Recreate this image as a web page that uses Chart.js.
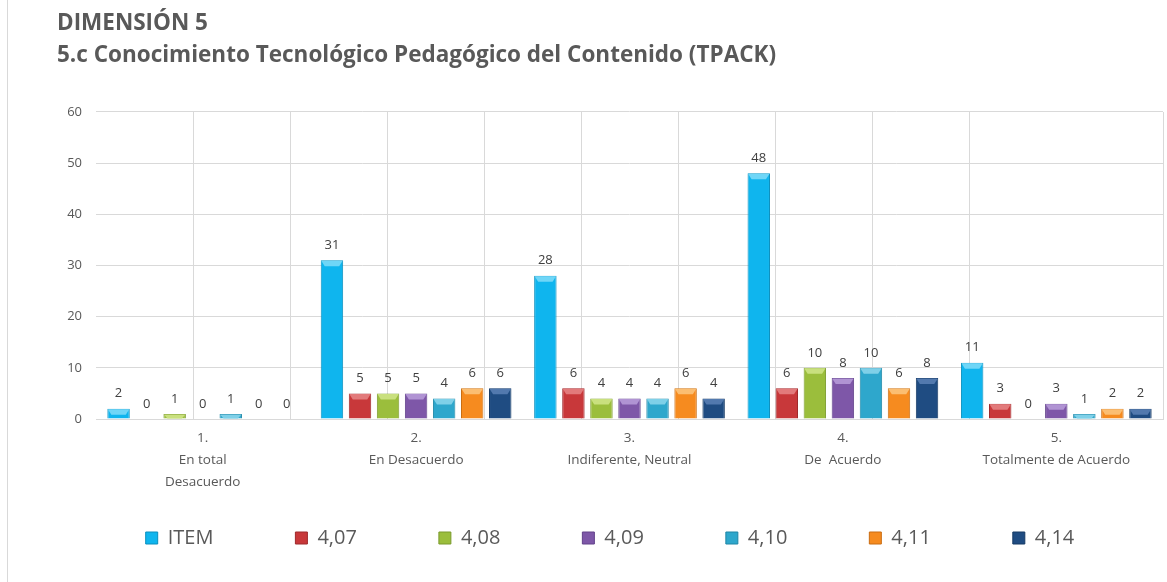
<!DOCTYPE html>
<html>
<head>
<meta charset="utf-8">
<script src="https://cdn.jsdelivr.net/npm/chart.js@4.4.1/dist/chart.umd.min.js"></script>
<style>
  html, body { margin: 0; padding: 0; background: #fff; }
  #wrap { position: relative; width: 1167px; height: 582px; }
  #frame { position: absolute; left: 7px; top: 0; width: 0; height: 582px; border-left: 1px solid #D9D9D9; }
  canvas { position: absolute; left: 0; top: 0; }
</style>
</head>
<body>
<div id="wrap">
  <div id="frame"></div>
  <canvas id="c" width="1167" height="582"></canvas>
</div>
<script>
const categories = [
  ["1.", "En total", "Desacuerdo"],
  ["2.", "En Desacuerdo"],
  ["3.", "Indiferente, Neutral"],
  ["4.", "De  Acuerdo"],
  ["5.", "Totalmente de Acuerdo"]
];
const seriesNames = ["ITEM", "4,07", "4,08", "4,09", "4,10", "4,11", "4,14"];
const item  = [2, 31, 28, 48, 11];
const v407  = [0, 5, 6, 6, 3];
const v408  = [1, 5, 4, 10, 0];
const v409  = [0, 5, 4, 8, 3];
const v410  = [1, 4, 4, 10, 1];
const v411  = [0, 6, 6, 6, 2];
const v414  = [0, 6, 4, 8, 2];
const yTicks = [0, 10, 20, 30, 40, 50, 60];
const titleLines = ["DIMENSIÓN 5", "5.c Conocimiento Tecnológico Pedagógico del Contenido (TPACK)"];

const seriesValues = [item, v407, v408, v409, v410, v411, v414];
const fills   = ["#0FB5EE", "#C8383A", "#9BBE3C", "#7E57A8", "#2EA7CC", "#F68B1F", "#1F4C82"];
const borders = ["#0A8FBE", "#9E2A2C", "#7A9A2C", "#62428A", "#1F86A6", "#C96D12", "#163A64"];
const tops    = ["#6FD6F7", "#E27A7B", "#C9E07E", "#B093D3", "#7FD0E8", "#FBBE72", "#5279AE"];

const datasets = seriesValues.map((vals, i) => ({
  label: seriesNames[i],
  data: vals,
  backgroundColor: fills[i],
  borderColor: borders[i],
  borderWidth: 1,
  categoryPercentage: 0.92,
  barPercentage: 0.8
}));

const valueLabels = {
  id: 'valueLabels',
  afterDatasetsDraw(chart) {
    const ctx = chart.ctx;
    ctx.save();
    chart.data.datasets.forEach((ds, di) => {
      const meta = chart.getDatasetMeta(di);
      meta.data.forEach((bar, j) => {
        const w = bar.width;
        const top = bar.y;
        const base = bar.base;
        const h = Math.min(6, base - top);
        if (h > 1) {
          ctx.fillStyle = tops[di];
          ctx.beginPath();
          ctx.moveTo(bar.x - w / 2 + 0.5, top + 0.5);
          ctx.lineTo(bar.x + w / 2 - 0.5, top + 0.5);
          ctx.lineTo(bar.x + w / 2 - 4, top + h);
          ctx.lineTo(bar.x - w / 2 + 4, top + h);
          ctx.closePath();
          ctx.fill();
        }
        ctx.fillStyle = '#404040';
        ctx.font = '13px "Open Sans"';
        ctx.textAlign = 'center';
        ctx.textBaseline = 'middle';
        ctx.fillText(String(ds.data[j]), bar.x, bar.y - 15);
      });
    });
    ctx.restore();
  }
};

new Chart(document.getElementById('c'), {
  type: 'bar',
  data: { labels: categories, datasets },
  options: {
    responsive: false,
    animation: false,
    layout: { padding: { left: 57, right: 4, top: 2, bottom: 24 } },
    plugins: {
      title: {
        display: true,
        text: titleLines,
        align: 'start',
        color: '#595959',
        font: { family: '"Open Sans"', size: 22.5, weight: 'bold', lineHeight: 1.42 },
        padding: { top: 6, bottom: 40 }
      },
      legend: {
        position: 'bottom',
        labels: {
          color: '#595959',
          font: { family: '"Open Sans"', size: 20 },
          boxWidth: 12,
          boxHeight: 12,
          padding: 82
        }
      },
      tooltip: { enabled: false }
    },
    scales: {
      x: {
        type: 'category',
        grid: { display: false },
        border: { display: true, color: '#D9D9D9' },
        ticks: {
          color: '#595959',
          font: { family: '"Open Sans"', size: 13.5, lineHeight: 1.62 },
          padding: 0,
          maxRotation: 0
        },
        afterFit(s) {
          s.height = 27;
          s._computeLabelArea = function () {
            return { top: this.top, left: 0, bottom: this.chart.height, right: this.chart.width };
          };
        }
      },
      xg: {
        type: 'linear',
        position: 'top',
        min: 0,
        max: 5,
        ticks: { display: false, stepSize: 0.5 },
        grid: {
          drawTicks: false,
          color: (c) => (c.tick && (c.tick.value === 0 || c.tick.value === 5)) ? 'rgba(0,0,0,0)' : '#D9D9D9'
        },
        border: { display: false },
        afterFit(s) { s.height = 0; }
      },
      y: {
        min: 0,
        max: 60,
        afterBuildTicks(s) { s.ticks = yTicks.map(v => ({ value: v })); },
        grid: { color: '#D9D9D9', drawTicks: false },
        border: { display: false },
        ticks: {
          color: '#595959',
          font: { family: '"Open Sans"', size: 13 },
          padding: 14
        },
        afterFit(s) { s.width = 39; }
      }
    }
  },
  plugins: [valueLabels]
});
</script>
</body>
</html>
